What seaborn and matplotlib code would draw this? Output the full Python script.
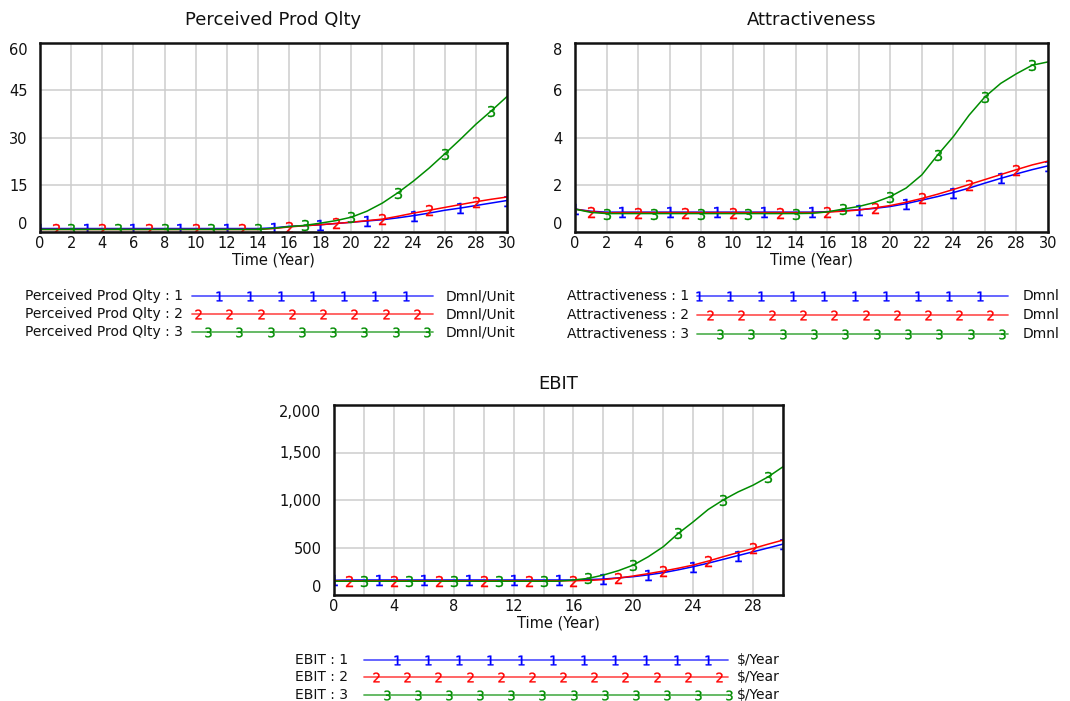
import numpy as np
import pandas as pd
import matplotlib
matplotlib.use("Agg")
import matplotlib.pyplot as plt
import seaborn as sns
from matplotlib.lines import Line2D

# ---------------- data ----------------
years = list(range(31))

pq_1 = [1.1, 1.1, 1.1, 1.1, 1.1, 1.1, 1.1, 1.1, 1.1, 1.1, 1.1, 1.1, 1.1, 1.1, 1.1, 1.3,
        1.8, 2.0, 2.3, 2.7, 3.1, 3.5, 3.9, 4.5, 5.2, 6.0, 6.9, 7.6, 8.4, 9.2, 10.0]
pq_2 = [0.8, 0.8, 0.8, 0.8, 0.8, 0.8, 0.8, 0.8, 0.8, 0.8, 0.8, 0.8, 0.8, 0.8, 0.8, 1.1,
        1.6, 2.0, 2.3, 2.7, 3.1, 3.6, 4.1, 5.0, 6.0, 6.9, 7.8, 8.7, 9.6, 10.4, 11.1]
pq_3 = [0.8, 0.8, 0.8, 0.8, 0.8, 0.8, 0.8, 0.8, 0.8, 0.8, 0.8, 0.8, 0.8, 0.8, 0.8, 1.2,
        1.7, 2.1, 2.8, 3.6, 4.7, 6.6, 9.2, 12.5, 16.2, 20.3, 24.8, 29.4, 34.2, 38.5, 43.0]

at_1 = [0.97, 0.88, 0.84, 0.84, 0.84, 0.84, 0.84, 0.84, 0.84, 0.84, 0.84, 0.84, 0.84, 0.84, 0.84, 0.84,
        0.86, 0.90, 0.94, 1.00, 1.08, 1.20, 1.35, 1.50, 1.67, 1.86, 2.07, 2.27, 2.46, 2.64, 2.80]
at_2 = [0.97, 0.86, 0.81, 0.82, 0.82, 0.82, 0.82, 0.82, 0.82, 0.82, 0.82, 0.82, 0.82, 0.82, 0.82, 0.82,
        0.84, 0.88, 0.93, 1.02, 1.12, 1.26, 1.42, 1.60, 1.80, 2.01, 2.22, 2.43, 2.64, 2.84, 3.00]
at_3 = [0.97, 0.83, 0.78, 0.78, 0.78, 0.78, 0.78, 0.78, 0.78, 0.78, 0.78, 0.78, 0.78, 0.78, 0.78, 0.79,
        0.85, 0.97, 1.08, 1.25, 1.50, 1.86, 2.42, 3.26, 4.04, 4.95, 5.72, 6.29, 6.70, 7.06, 7.20]

eb_1 = [155, 158, 158, 158, 158, 158, 158, 158, 158, 158, 158, 158, 158, 158, 158, 158,
        158, 162, 168, 180, 193, 212, 235, 265, 298, 335, 375, 415, 455, 495, 536]
eb_2 = [150, 150, 150, 150, 150, 150, 150, 150, 150, 150, 150, 150, 150, 150, 150, 150,
        150, 153, 162, 178, 200, 225, 252, 282, 315, 357, 403, 447, 490, 535, 578]
eb_3 = [145, 145, 145, 145, 145, 145, 145, 145, 145, 145, 145, 145, 145, 145, 145, 145,
        158, 175, 210, 256, 315, 403, 508, 648, 770, 900, 1000, 1085, 1156, 1243, 1350]

pq_yticks = [0, 15, 30, 45, 60]
at_yticks = [0, 2, 4, 6, 8]
eb_yticks = [0, 500, 1000, 1500, 2000]
eb_yticklabels = ["0", "500", "1,000", "1,500", "2,000"]

# ---------------- style ----------------
sns.set_theme(style="white")
plt.rcParams['font.family'] = ['DejaVu Sans']

COLORS = {1: "#0000ff", 2: "#ff0000", 3: "#008c00"}
W, H = 1070, 701
fig = plt.figure(figsize=(W / 100, H / 100), dpi=100)


def rect(x0, y0, x1, y1):
    return [x0 / W, 1 - y1 / H, (x1 - x0) / W, (y1 - y0) / H]


def panel(r, title, series, ylim, yticks, ylabels, major_x, title_y):
    ax = fig.add_axes(r)
    df = pd.DataFrame({"t": years * 3,
                       "v": series[0] + series[1] + series[2],
                       "s": [1] * 31 + [2] * 31 + [3] * 31})
    for k in (1, 2, 3):
        sub = df[df.s == k]
        sns.lineplot(data=sub, x="t", y="v", ax=ax, color=COLORS[k], linewidth=1.1,
                     marker=f"${k}$", markevery=(k - 1, 3), markersize=8,
                     markeredgecolor=COLORS[k], markerfacecolor=COLORS[k],
                     markeredgewidth=0.25, legend=False)
    ax.set_xlim(0, 30)
    ax.set_ylim(*ylim)
    ax.set_xticks(major_x)
    ax.set_xticks(range(0, 31, 2), minor=True)
    ax.set_yticks(yticks)
    ax.set_yticklabels(ylabels)
    ax.grid(True, which="both", axis="x", color="#cdcdcd", linewidth=1.1)
    ax.grid(True, which="major", axis="y", color="#cdcdcd", linewidth=1.1)
    ax.set_axisbelow(True)
    ax.tick_params(axis="both", which="both", length=0, labelsize=10.5, colors="#111111")
    ax.tick_params(axis="y", pad=9)
    ax.tick_params(axis="x", pad=3)
    ticks = ax.yaxis.get_major_ticks()
    ticks[0].label1.set_va("bottom")
    ticks[-1].label1.set_va("top")
    for sp in ax.spines.values():
        sp.set_color("#111111")
        sp.set_linewidth(1.8)
        sp.set_visible(True)
    ax.set_xlabel("Time (Year)", fontsize=10.5, labelpad=1, color="#111111")
    ax.set_ylabel("")
    cx = r[0] + r[2] / 2
    fig.text(cx, 1 - title_y / H, title, ha="center", va="center", fontsize=13, color="#111111")
    return ax


def legend(name, unit, x_text, x0, x1, x_unit, rows_y, marks):
    for k, y in zip((1, 2, 3), rows_y):
        yf = 1 - y / H
        fig.text(x_text / W, yf, f"{name} : {k}", ha="left", va="center", fontsize=10, color="#111111")
        fig.text(x_unit / W, yf, unit, ha="left", va="center", fontsize=10, color="#111111")
        fig.add_artist(Line2D([x0 / W, x1 / W], [yf, yf], color=COLORS[k], linewidth=1.3,
                              alpha=0.65, transform=fig.transFigure))
        m0, m1, n = marks[k - 1]
        xs = np.linspace(m0, m1, n) / W
        fig.add_artist(Line2D(xs, [yf] * n, linestyle="none", marker=f"${k}$", markersize=7,
                              color=COLORS[k], markeredgewidth=0.25, transform=fig.transFigure))


panel(rect(40, 43, 507, 232), "Perceived Prod Qlty", [pq_1, pq_2, pq_3], (0, 60),
      pq_yticks, [str(v) for v in pq_yticks], range(0, 31, 2), 20)
panel(rect(575, 43, 1048, 232), "Attractiveness", [at_1, at_2, at_3], (0, 8),
      at_yticks, [str(v) for v in at_yticks], range(0, 31, 2), 20)
panel(rect(334, 405, 783, 595), "EBIT", [eb_1, eb_2, eb_3], (0, 2000),
      eb_yticks, eb_yticklabels, range(0, 29, 4), 384)

legend("Perceived Prod Qlty", "Dmnl/Unit", 25, 192, 433, 446, (296, 314, 332),
       [(219, 406, 7), (198, 417, 8), (208, 427, 8)])
legend("Attractiveness", "Dmnl", 567, 697, 1008, 1023, (296, 315, 334),
       [(699, 980, 10), (710, 990, 10), (720, 1002, 10)])
legend("EBIT", "$/Year", 295, 364, 728, 737, (660, 677, 695),
       [(397, 708, 11), (376, 719, 12), (387, 729, 12)])

fig.savefig("out.png", dpi=100, facecolor="white")
